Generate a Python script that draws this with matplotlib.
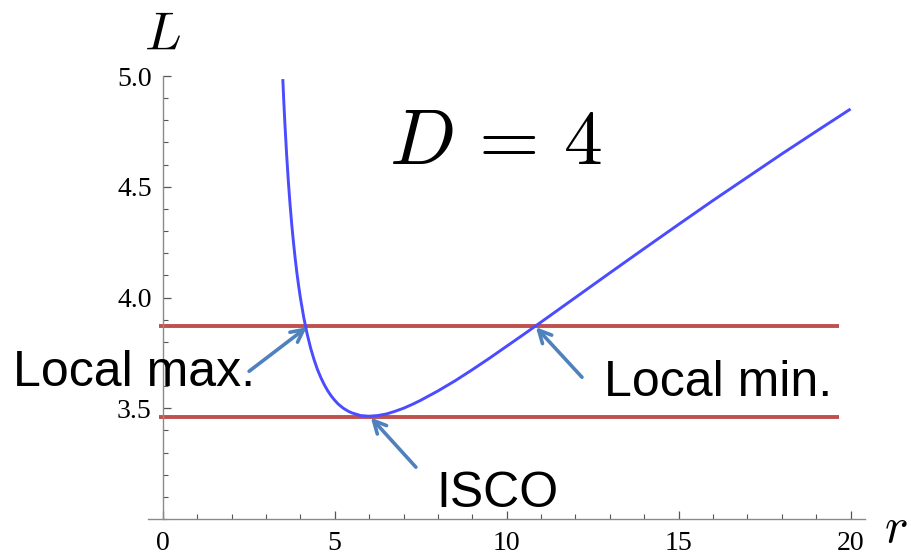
import matplotlib
matplotlib.use("Agg")
import matplotlib.pyplot as plt
from matplotlib.ticker import MultipleLocator, FixedLocator

plt.rcParams["mathtext.fontset"] = "cm"

# Angular momentum L of circular orbits versus radius r
r_vals = [3.49, 3.52, 3.55, 3.6, 3.65, 3.7, 3.75, 3.8, 3.85, 3.9, 3.95, 4.0,
          4.1, 4.2, 4.3, 4.4, 4.5, 4.6, 4.7, 4.8, 4.9, 5.0, 5.1, 5.25, 5.4,
          5.5, 5.75, 6.0, 6.25, 6.5, 6.75, 7.0, 7.25, 7.5, 8.0, 8.5, 9.0,
          9.5, 10.0, 10.5, 11.0, 12.0, 13.0, 14.0, 15.0, 16.0, 17.0, 18.0,
          19.0, 20.0]
L_vals = [4.986, 4.881, 4.787, 4.648, 4.527, 4.422, 4.330, 4.249, 4.176,
          4.111, 4.053, 4.000, 3.909, 3.834, 3.771, 3.719, 3.674, 3.637,
          3.605, 3.578, 3.555, 3.536, 3.519, 3.500, 3.486, 3.479, 3.467,
          3.464, 3.467, 3.474, 3.486, 3.500, 3.517, 3.536, 3.578, 3.624,
          3.674, 3.726, 3.780, 3.834, 3.889, 4.000, 4.111, 4.221, 4.330,
          4.438, 4.543, 4.648, 4.750, 4.851]

# Reference levels: local max / local min level and the ISCO level
level_vals = [3.87, 3.46]
level_span = [-0.1, 19.65]

x_ticks = [0, 5, 10, 15, 20]
y_ticks = [3.5, 4.0, 4.5, 5.0]
x_tick_labels = ["0", "5", "10", "15", "20"]
y_tick_labels = ["3.5", "4.0", "4.5", "5.0"]

# Annotation arrows: (text, text position, arrow tail, arrow head)
notes = [
    ("Local max.", (-4.35, 3.60), (2.51, 3.667), (4.19, 3.866)),
    ("ISCO", (7.97, 3.054), (7.36, 3.234), (6.05, 3.458)),
    ("Local min.", (12.83, 3.554), (12.19, 3.64), (10.85, 3.866)),
]

fig = plt.figure(figsize=(9.12, 5.58), dpi=100)
ax = fig.add_axes([148 / 912, 39 / 558, 717 / 912, 443 / 558])

ax.plot(r_vals, L_vals, color="#4B4BFF", lw=2.1, solid_capstyle="butt", zorder=3)
ax.hlines(level_vals, level_span[0], level_span[1], color="#C0504D", lw=2.8, zorder=2)

ax.set_xlim(-0.43, 20.42)
ax.set_ylim(3.0, 5.0)

for side in ("top", "right"):
    ax.spines[side].set_visible(False)
ax.spines["left"].set_position(("data", 0))
for side in ("left", "bottom"):
    ax.spines[side].set_color("#8a8a8a")
    ax.spines[side].set_linewidth(1.0)

ax.xaxis.set_major_locator(FixedLocator(x_ticks))
ax.xaxis.set_minor_locator(MultipleLocator(1))
ax.yaxis.set_major_locator(FixedLocator(y_ticks))
ax.yaxis.set_minor_locator(MultipleLocator(0.1))
ax.set_xticklabels(x_tick_labels)
ax.set_yticklabels(y_tick_labels)

ax.tick_params(axis="both", which="major", direction="in", length=6,
               width=0.9, color="#555555", labelsize=20)
ax.tick_params(axis="both", which="minor", direction="in", length=3.5,
               width=0.8, color="#555555")
ax.tick_params(axis="x", which="major", pad=9)
ax.tick_params(axis="y", which="major", pad=8)
for lab in ax.get_xticklabels() + ax.get_yticklabels():
    lab.set_fontfamily("Liberation Serif")

# Axis names placed at the ends of the axes
ax.text(0.0, 5.12, r"$L$", fontsize=39, ha="center", va="baseline", clip_on=False)
ax.text(20.98, 2.896, r"$r$", fontsize=36, ha="left", va="baseline", clip_on=False)

ax.text(6.58, 4.604, r"$D\,=\,4$", fontsize=56, ha="left", va="baseline")

for label, (tx, ty), tail, head in notes:
    ax.text(tx, ty, label, fontsize=36, family="Liberation Sans",
            ha="left", va="baseline", clip_on=False, zorder=5)
    ax.annotate("", xy=head, xytext=tail,
                arrowprops=dict(arrowstyle="->,head_length=0.9,head_width=0.45",
                                color="#4F81BD", lw=2.6, shrinkA=0, shrinkB=0),
                zorder=4)

fig.savefig("out.png", dpi=100)
